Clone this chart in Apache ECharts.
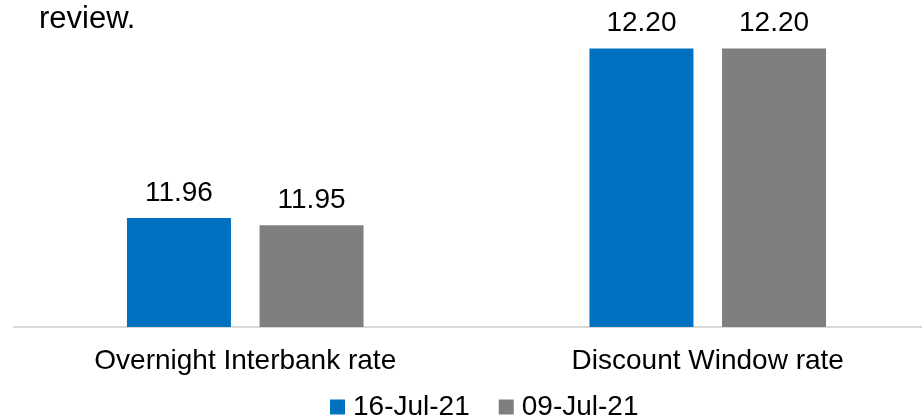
<!DOCTYPE html>
<html>
<head>
<meta charset="utf-8">
<script src="https://cdn.jsdelivr.net/npm/echarts@6/dist/echarts.min.js"></script>
<style>
  html, body { margin: 0; padding: 0; background: #ffffff; }
  #chart { width: 922px; height: 417px; }
</style>
</head>
<body>
<div id="chart"></div>
<script>
const categories = ['Overnight Interbank rate', 'Discount Window rate'];
const seriesNames = ['16-Jul-21', '09-Jul-21'];
const values16Jul = [11.96, 12.20];
const values09Jul = [11.95, 12.20];
const headerText = 'review.';

const FONT = '"Liberation Sans", Arial, sans-serif';
const chart = echarts.init(document.getElementById('chart'), null, { renderer: 'canvas' });

const labelCfg = {
  show: true,
  position: 'top',
  distance: 11,
  color: '#000000',
  fontSize: 28,
  fontFamily: FONT,
  formatter: p => p.value.toFixed(2)
};

chart.setOption({
  animation: false,
  backgroundColor: '#ffffff',
  graphic: [{
    type: 'text',
    left: 39,
    top: 4,
    style: { text: headerText, fill: '#000000', fontSize: 31, fontFamily: FONT }
  }],
  legend: {
    data: seriesNames,
    left: 325,
    top: 388,
    icon: 'rect',
    itemWidth: 15,
    itemHeight: 15,
    itemGap: 29,
    textStyle: { color: '#000000', fontSize: 28, fontFamily: FONT, padding: [0, 0, 0, 3] }
  },
  grid: { left: 14, top: 0, right: -17, height: 327, containLabel: false, outerBoundsMode: 'none' },
  xAxis: {
    type: 'category',
    data: categories,
    axisLine: { show: true, lineStyle: { color: '#d9d9d9', width: 2 } },
    axisTick: { show: false },
    axisLabel: { color: '#000000', fontSize: 28, fontFamily: FONT, margin: 20, interval: 0 }
  },
  yAxis: {
    type: 'value',
    min: 11.806,
    max: 12.2685,
    show: false,
    splitLine: { show: false }
  },
  series: [
    {
      name: seriesNames[0],
      type: 'bar',
      data: values16Jul,
      barWidth: 104,
      barGap: '27.5%',
      itemStyle: { color: '#0070c0' },
      label: labelCfg
    },
    {
      name: seriesNames[1],
      type: 'bar',
      data: values09Jul,
      barWidth: 104,
      barGap: '27.5%',
      itemStyle: { color: '#7f7f7f' },
      label: labelCfg
    }
  ]
});
</script>
</body>
</html>
